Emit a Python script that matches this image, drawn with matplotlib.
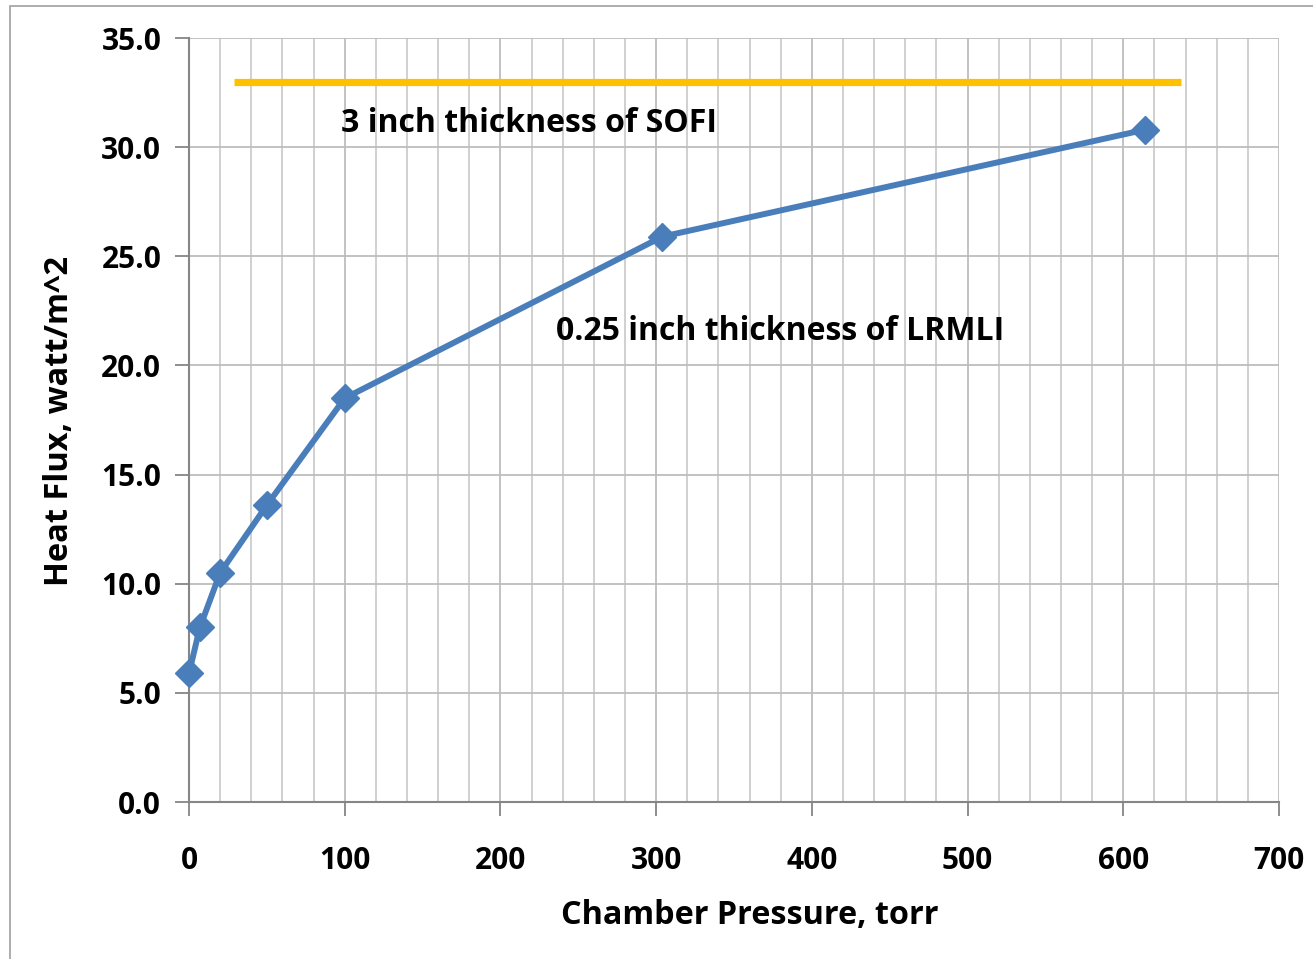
import matplotlib
matplotlib.use("Agg")
import matplotlib.pyplot as plt
from matplotlib.patches import Rectangle
from matplotlib.ticker import MultipleLocator, FormatStrFormatter

# Data
pressure = [0, 7, 20, 50, 100, 304, 614]
heat_flux = [5.9, 8.0, 10.5, 13.6, 18.5, 25.9, 30.8]
sofi_x = [29, 637]
sofi_y = [33.0, 33.0]
label_sofi = "3 inch thickness of SOFI"
label_lrmli = "0.25 inch thickness of LRMLI"

plt.rcParams['font.family'] = ['Open Sans', 'DejaVu Sans']
plt.rcParams['font.weight'] = 'bold'

fig = plt.figure(figsize=(13.13, 9.59), dpi=100)
fig.patch.set_facecolor('white')
fig.add_artist(Rectangle((10/1313, -0.1), 1.2, 1 - 6/959 + 0.1, transform=fig.transFigure,
                         fill=False, edgecolor='#A0A0A0', linewidth=1.2))

ax = fig.add_axes([189/1313, 1 - 802/959, (1279 - 189)/1313, (802 - 38)/959])
ax.set_xlim(0, 700)
ax.set_ylim(0, 35)
ax.xaxis.set_major_locator(MultipleLocator(100))
ax.xaxis.set_minor_locator(MultipleLocator(20))
ax.yaxis.set_major_locator(MultipleLocator(5))
ax.yaxis.set_major_formatter(FormatStrFormatter('%.1f'))

ax.grid(True, which='major', axis='both', color='#BDBDBD', linewidth=1.3, zorder=0)
ax.grid(True, which='minor', axis='x', color='#C8C8C8', linewidth=1.2, zorder=0)
ax.set_axisbelow(True)

for s in ['top', 'right']:
    ax.spines[s].set_visible(False)
for s in ['left', 'bottom']:
    ax.spines[s].set_color('#868686')
    ax.spines[s].set_linewidth(1.5)

ax.tick_params(axis='both', which='major', direction='out', length=10, width=1.3,
               color='#868686', labelsize=21.5, pad=10)
ax.tick_params(axis='x', which='minor', length=0)
ax.tick_params(axis='x', which='major', pad=22)
for lab in ax.get_xticklabels() + ax.get_yticklabels():
    lab.set_fontweight('bold')

ax.plot(sofi_x, sofi_y, color='#FFC000', linewidth=5.2, solid_capstyle='butt', zorder=3)
ax.plot(pressure, heat_flux, color='#4A7EBB', linewidth=4.3, marker='D', markersize=14,
        markerfacecolor='#4A7EBB', markeredgecolor='#4A7EBB', zorder=4, clip_on=False)

ax.text(97.5, 31.07, label_sofi, fontsize=23, fontweight='bold', va='center', ha='left')
ax.text(235.5, 21.55, label_lrmli, fontsize=23, fontweight='bold', va='center', ha='left')

fig.text(750/1313, 1 - 915/959, "Chamber Pressure, torr", fontsize=23.3, fontweight='bold',
         ha='center', va='center')
fig.text(60/1313, 1 - 421/959, "Heat Flux, watt/m^2", fontsize=23.5, fontweight='bold',
         ha='center', va='center', rotation=90)

fig.savefig("out.png", dpi=100)
